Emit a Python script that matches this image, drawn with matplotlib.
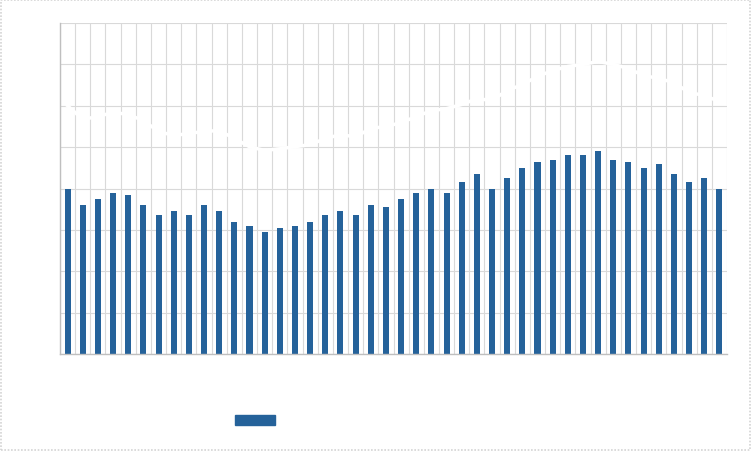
import numpy as np
import matplotlib
matplotlib.use("Agg")
import matplotlib.pyplot as plt
from matplotlib.patches import Rectangle

# --- data (labels are white in the original) ---
periods = [f"P{i}" for i in range(1, 45)]
bar_values = [4.0, 3.6, 3.75, 3.9, 3.85, 3.6, 3.35, 3.45, 3.35, 3.6, 3.45,
              3.2, 3.1, 2.95, 3.05, 3.1, 3.2, 3.35, 3.45, 3.35, 3.6, 3.55,
              3.75, 3.9, 4.0, 3.9, 4.15, 4.35, 4.0, 4.25, 4.5, 4.65, 4.7,
              4.8, 4.8, 4.9, 4.7, 4.65, 4.5, 4.6, 4.35, 4.15, 4.25, 4.0]
line_values = [6.00, 5.67, 5.74, 5.84, 5.79, 5.64, 5.38, 5.28, 5.33, 5.38,
               5.40, 5.21, 5.01, 4.92, 4.96, 5.01, 5.06, 5.21, 5.30, 5.25,
               5.45, 5.50, 5.59, 5.74, 5.88, 5.93, 6.03, 6.17, 6.13, 6.37,
               6.51, 6.71, 6.85, 6.95, 7.00, 7.07, 7.00, 6.90, 6.73, 6.66,
               6.56, 6.32, 6.25, 6.10]
y_ticks = list(range(0, 9))

BAR_COLOR = "#25629a"
GRID_COLOR = "#d9d9d9"

fig = plt.figure(figsize=(7.52, 4.52), dpi=100)
ax = fig.add_axes([60 / 752, 97 / 452, 667 / 752, 331 / 452])

x = np.arange(len(periods))
ax.bar(x, bar_values, width=0.4, color=BAR_COLOR, zorder=2, label="Series 1")
ax.plot(x, line_values, color="white", linewidth=2.5, zorder=3, label="Series 2")

ax.set_xlim(-0.5, len(periods) - 0.5)
ax.set_ylim(y_ticks[0], y_ticks[-1])
ax.set_yticks(y_ticks)
ax.set_xticks(np.arange(-0.5, len(periods), 1))
ax.tick_params(length=0, labelcolor="white")
ax.set_xticklabels([])
ax.set_yticklabels([])
ax.grid(True, color=GRID_COLOR, linewidth=0.8, zorder=0)
ax.set_axisbelow(True)

for side in ["top", "right"]:
    ax.spines[side].set_visible(False)
for side in ["left", "bottom"]:
    ax.spines[side].set_color("#bfbfbf")
    ax.spines[side].set_linewidth(1.0)

# legend key (text is white in the reference)
fig.patches.append(Rectangle((235 / 752, 26 / 452), 40 / 752, 10 / 452,
                             transform=fig.transFigure, color=BAR_COLOR))

# dotted outer frame
fig.patches.append(Rectangle((0.001, 0.002), 0.997, 0.995, transform=fig.transFigure,
                             fill=False, edgecolor="#d4d4d4", linestyle=(0, (1, 1)),
                             linewidth=1.2))

fig.savefig("out.png", dpi=100)
